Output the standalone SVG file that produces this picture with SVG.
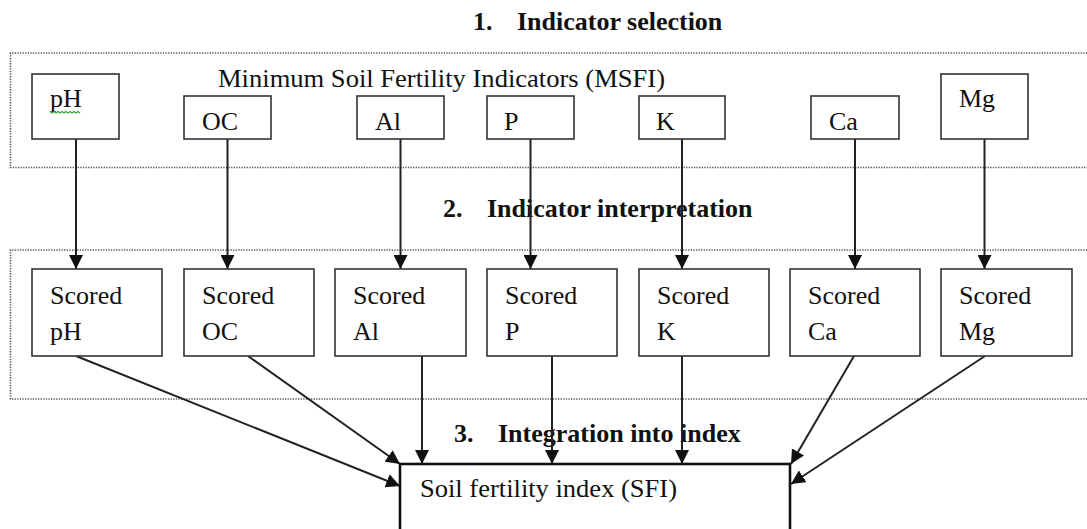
<svg xmlns="http://www.w3.org/2000/svg" width="1087" height="529" viewBox="0 0 1087 529">
  <style>
    .bg { fill: #ffffff; }
    .zone { fill: none; stroke: #555555; stroke-width: 1.6; stroke-dasharray: 1.3 1.3; }
    .box { fill: #ffffff; stroke: #333333; stroke-width: 1.6; }
    .main { fill: #ffffff; stroke: #111111; stroke-width: 2.6; }
    .lbl { font-family: "Liberation Serif", "Times New Roman", serif; font-size: 26px; fill: #111111; }
    .step { font-family: "Liberation Serif", "Times New Roman", serif; font-size: 26px; font-weight: bold; fill: #111111; }
    .link { fill: none; stroke: #222222; stroke-width: 2; marker-end: url(#head); }
    .squiggle { fill: none; stroke: #3aa23a; stroke-width: 1.2; }
  </style>
  <defs>
    <marker id="head" markerUnits="userSpaceOnUse" markerWidth="14" markerHeight="14" refX="14" refY="7" orient="auto">
      <path d="M0,0 L14,7 L0,14 z" fill="#111111"/>
    </marker>
  </defs>

  <rect class="bg" x="0" y="0" width="1087" height="529"/>

  <!-- stage frames (dotted), open to the right -->
  <g id="frames">
    <path class="zone" d="M1095,53 H10.5 V167.5 H1095"/>
    <path class="zone" d="M1095,250 H10.5 V399 H1095"/>
  </g>

  <!-- stage headings -->
  <g id="headings">
    <text class="step" x="473" y="30">1.</text>
    <text class="step" x="517" y="30">Indicator selection</text>
    <text class="step" x="443" y="217">2.</text>
    <text class="step" x="487" y="217">Indicator interpretation</text>
    <text class="step" x="454" y="442">3.</text>
    <text class="step" x="498" y="442">Integration into index</text>
  </g>

  <text class="lbl" x="218" y="87" textLength="447" lengthAdjust="spacingAndGlyphs">Minimum Soil Fertility Indicators (MSFI)</text>

  <!-- connectors -->
  <g id="connectors">
    <line class="link" x1="76" y1="139" x2="76" y2="269"/>
    <line class="link" x1="227.5" y1="139" x2="227.5" y2="269"/>
    <line class="link" x1="400.5" y1="139" x2="400.5" y2="269"/>
    <line class="link" x1="530.5" y1="139" x2="530.5" y2="269"/>
    <line class="link" x1="682" y1="139" x2="682" y2="269"/>
    <line class="link" x1="855" y1="139" x2="855" y2="269"/>
    <line class="link" x1="984.5" y1="139" x2="984.5" y2="269"/>

    <line class="link" x1="76" y1="356" x2="400" y2="486"/>
    <line class="link" x1="248" y1="356" x2="400" y2="464"/>
    <line class="link" x1="422" y1="356" x2="422" y2="464"/>
    <line class="link" x1="552" y1="356" x2="552" y2="464"/>
    <line class="link" x1="682" y1="356" x2="682" y2="464"/>
    <line class="link" x1="854" y1="356" x2="791" y2="464"/>
    <line class="link" x1="985" y1="356" x2="791" y2="484"/>
  </g>

  <!-- indicator nodes -->
  <g id="ind-pH">
    <rect class="box" x="32" y="74" width="87" height="65"/>
    <text class="lbl" x="50" y="107">pH</text>
    <path class="squiggle" d="M50,111.5 l2,1.5 l2,-1.5 l2,1.5 l2,-1.5 l2,1.5 l2,-1.5 l2,1.5 l2,-1.5 l2,1.5 l2,-1.5 l2,1.5 l2,-1.5 l2,1.5 l2,-1.5 l2,1.5"/>
  </g>
  <g id="ind-OC">
    <rect class="box" x="184" y="96" width="87" height="43"/>
    <text class="lbl" x="202" y="130">OC</text>
  </g>
  <g id="ind-Al">
    <rect class="box" x="357" y="96" width="87" height="43"/>
    <text class="lbl" x="375" y="130">Al</text>
  </g>
  <g id="ind-P">
    <rect class="box" x="487" y="96" width="87" height="43"/>
    <text class="lbl" x="504" y="130">P</text>
  </g>
  <g id="ind-K">
    <rect class="box" x="639" y="96" width="86" height="43"/>
    <text class="lbl" x="656" y="130">K</text>
  </g>
  <g id="ind-Ca">
    <rect class="box" x="811" y="96" width="88" height="43"/>
    <text class="lbl" x="829" y="130">Ca</text>
  </g>
  <g id="ind-Mg">
    <rect class="box" x="941" y="74" width="87" height="65"/>
    <text class="lbl" x="959" y="107">Mg</text>
  </g>

  <!-- scored nodes -->
  <g id="score-pH">
    <rect class="box" x="32" y="269" width="130" height="87"/>
    <text class="lbl" x="50" y="304">Scored</text>
    <text class="lbl" x="50" y="340">pH</text>
  </g>
  <g id="score-OC">
    <rect class="box" x="184" y="269" width="130" height="87"/>
    <text class="lbl" x="202" y="304">Scored</text>
    <text class="lbl" x="202" y="340">OC</text>
  </g>
  <g id="score-Al">
    <rect class="box" x="335" y="269" width="131" height="87"/>
    <text class="lbl" x="353" y="304">Scored</text>
    <text class="lbl" x="353" y="340">Al</text>
  </g>
  <g id="score-P">
    <rect class="box" x="487" y="269" width="130" height="87"/>
    <text class="lbl" x="505" y="304">Scored</text>
    <text class="lbl" x="505" y="340">P</text>
  </g>
  <g id="score-K">
    <rect class="box" x="639" y="269" width="130" height="87"/>
    <text class="lbl" x="657" y="304">Scored</text>
    <text class="lbl" x="657" y="340">K</text>
  </g>
  <g id="score-Ca">
    <rect class="box" x="790" y="269" width="130" height="87"/>
    <text class="lbl" x="808" y="304">Scored</text>
    <text class="lbl" x="808" y="340">Ca</text>
  </g>
  <g id="score-Mg">
    <rect class="box" x="941" y="269" width="131" height="87"/>
    <text class="lbl" x="959" y="304">Scored</text>
    <text class="lbl" x="959" y="340">Mg</text>
  </g>

  <!-- combined index node -->
  <g id="sfi">
    <rect class="main" x="400" y="464" width="390" height="80"/>
    <text class="lbl" x="420" y="497" textLength="257" lengthAdjust="spacingAndGlyphs">Soil fertility index (SFI)</text>
  </g>
</svg>
